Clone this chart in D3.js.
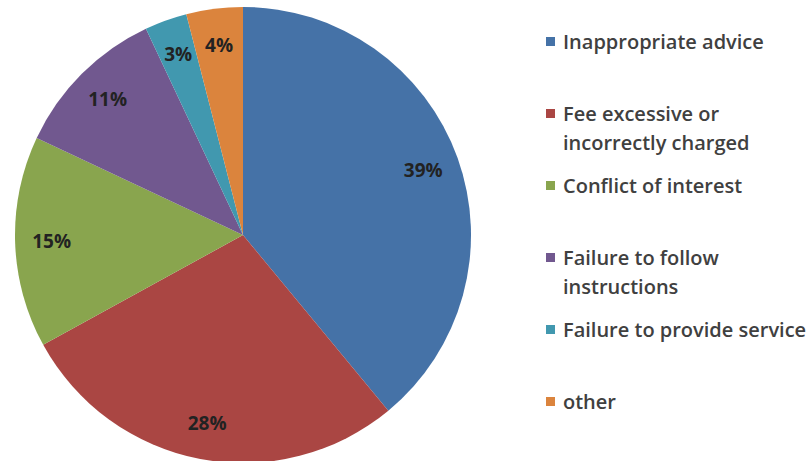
<!DOCTYPE html>
<html><head><meta charset="utf-8">
<script src="https://cdn.jsdelivr.net/npm/d3@7"></script>
<style>body{margin:0;background:#fff}svg{display:block}</style>
</head><body>
<svg id="c" width="808" height="461"></svg>
<script>
const categories = ["Inappropriate advice","Fee excessive or incorrectly charged","Conflict of interest","Failure to follow instructions","Failure to provide service","other"];
const legendLines = [["Inappropriate advice"],["Fee excessive or","incorrectly charged"],["Conflict of interest"],["Failure to follow","instructions"],["Failure to provide service"],["other"]];
const values = [39,28,15,11,3,4];
const colors = ["#4572A7","#AA4643","#89A54E","#71588F","#4198AF","#DB843D"];

const svg = d3.select("#c");
const cx = 243, cy = 235, R = 228;
const pie = d3.pie().sort(null).value(d=>d)(values);
const arc = d3.arc().innerRadius(0).outerRadius(R);
const labelArc = d3.arc().innerRadius(R*0.84).outerRadius(R*0.84);
const g = svg.append("g").attr("transform",`translate(${cx},${cy})`);
g.selectAll("path").data(pie).join("path").attr("d",arc).attr("fill",(d,i)=>colors[i]);
g.selectAll("text").data(pie).join("text")
  .attr("transform",d=>`translate(${labelArc.centroid(d)})`)
  .attr("text-anchor","middle").attr("dy","0.35em")
  .attr("font-family","'Open Sans', sans-serif").attr("font-weight","bold")
  .attr("font-size",19).attr("fill","#222")
  .text(d=>d.data+"%");

const lg = svg.append("g");
const item = lg.selectAll("g").data(categories).join("g")
  .attr("transform",(d,i)=>`translate(546,${42+i*72})`);
item.append("rect").attr("x",0).attr("y",-5).attr("width",9).attr("height",9).attr("fill",(d,i)=>colors[i]);
item.append("text").attr("x",17)
  .attr("font-family","'Open Sans', sans-serif").attr("font-size",20).attr("font-weight",600).attr("fill","#404040")
  .selectAll("tspan").data((d,i)=>legendLines[i]).join("tspan")
  .attr("x",17).attr("dy",(d,j)=>j===0?"0.35em":"29px").text(d=>d);
</script>
</body></html>
